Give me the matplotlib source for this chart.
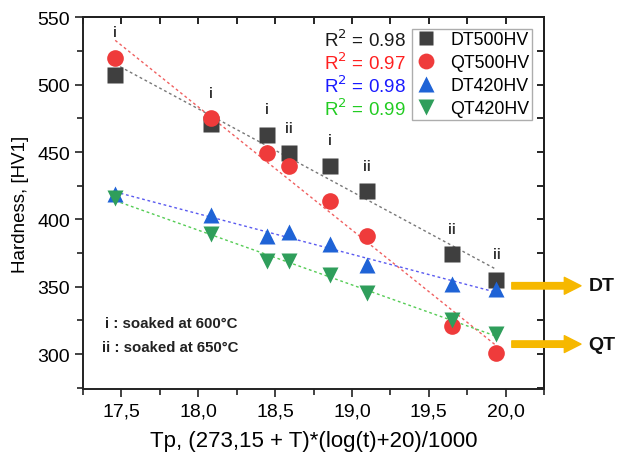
import matplotlib.pyplot as plt
import numpy as np

plt.rcParams['font.family'] = ['Liberation Sans', 'DejaVu Sans']

# tempering parameter Tp
tp = [17.46, 18.08, 18.45, 18.59, 18.86, 19.10, 19.65, 19.94]
# hardness values (HV1)
dt500 = [507, 471, 463, 449, 440, 421, 374, 355]
qt500 = [520, 475, 449, 440, 414, 388, 321, 301]
dt420 = [419, 403, 388, 391, 382, 366, 352, 348]
qt420 = [416, 389, 369, 369, 359, 345, 325, 315]
soak = ['i', 'i', 'i', 'ii', 'i', 'ii', 'ii', 'ii']

names = ['DT500HV', 'QT500HV', 'DT420HV', 'QT420HV']
r2 = ['0.98', '0.97', '0.98', '0.99']
series = [dt500, qt500, dt420, qt420]
markers = ['s', 'o', '^', 'v']
msizes = [11, 12, 12, 12]
mcolors = ['#3f3f3f', '#ef3b3b', '#1f63d6', '#2f9e5b']
fitcolors = ['#777777', '#f06060', '#5a5af0', '#55cc55']
r2colors = ['#1a1a1a', '#ff2020', '#1a1aff', '#22cc22']

fig = plt.figure(figsize=(6.19, 4.6), dpi=100)
ax = fig.add_axes([0.134, 0.152, 0.745, 0.808])

# dotted linear fits
for ys, c in zip(series, fitcolors):
    k, b = np.polyfit(tp, ys, 1)
    xx = np.array([tp[0], tp[-1]])
    ax.plot(xx, k * xx + b, ls=(0, (2, 2)), lw=1.0, color=c, zorder=1)

handles = []
for ys, m, ms, c, n in zip(series, markers, msizes, mcolors, names):
    h, = ax.plot(tp, ys, ls='none', marker=m, ms=ms, color=c,
                 markeredgecolor='none', label=n, zorder=3)
    handles.append(h)

# soaking labels
for x, a, b, s in zip(tp, dt500, qt500, soak):
    ax.text(x, max(a, b) + 19, s, ha='center', va='center', fontsize=10,
            fontweight='bold', color='#333333')

ax.set_xlim(17.25, 20.25)
ax.set_ylim(274, 550)
ax.set_xticks(np.arange(17.5, 20.01, 0.5))
ax.set_xticks(np.arange(17.25, 20.26, 0.25), minor=True)
ax.set_yticks(np.arange(300, 551, 50))
ax.set_yticks(np.arange(275, 551, 25), minor=True)
ax.set_xticklabels([f'{v:.1f}'.replace('.', ',') for v in np.arange(17.5, 20.01, 0.5)])
ax.tick_params(which='both', direction='out', labelsize=14, width=1.2, color='#222222')
ax.tick_params(which='major', length=6)
ax.tick_params(which='minor', length=4)
for sp in ax.spines.values():
    sp.set_linewidth(1.4)
    sp.set_color('#222222')

top = ax.secondary_xaxis('top')
top.set_xticks(np.arange(17.5, 20.01, 0.5))
top.set_xticks(np.arange(17.25, 20.26, 0.25), minor=True)
top.tick_params(which='both', direction='in', labeltop=False, length=5, width=1.2)
top.spines['top'].set_linewidth(1.4)
right = ax.secondary_yaxis('right')
right.set_yticks(np.arange(300, 551, 50))
right.set_yticks(np.arange(275, 551, 25), minor=True)
right.tick_params(which='both', direction='in', labelright=False, length=5, width=1.2)
right.spines['right'].set_linewidth(1.4)

ax.set_xlabel('Tp, (273,15 + T)*(log(t)+20)/1000', fontsize=16, labelpad=8)
ax.set_ylabel('Hardness, [HV1]', fontsize=13.5, labelpad=6)

leg = ax.legend(handles=handles, loc='upper right', bbox_to_anchor=(0.974, 0.970),
                fontsize=12.8, frameon=True, fancybox=False, handletextpad=0.7,
                labelspacing=0.34, borderpad=0.15, handlelength=1.3, markerscale=0.95,
                borderaxespad=0)
leg.get_frame().set_edgecolor('#999999')
leg.get_frame().set_linewidth(1.0)

for i, (v, c) in enumerate(zip(r2, r2colors)):
    ax.text(0.523, 0.942 - i * 0.062, f'R$^2$ = {v}', transform=ax.transAxes,
            fontsize=13.5, color=c, va='center', ha='left')

ax.text(0.048, 0.178, 'i : soaked at 600°C', transform=ax.transAxes,
        fontsize=10.8, fontweight='bold', color='#222222', va='center')
ax.text(0.042, 0.113, 'ii : soaked at 650°C', transform=ax.transAxes,
        fontsize=10.8, fontweight='bold', color='#222222', va='center')

# DT / QT arrows
arrow_y = [350.7, 307.4]
arrow_txt = ['DT', 'QT']
for y, t in zip(arrow_y, arrow_txt):
    ax.annotate('', xy=(20.49, y), xytext=(20.04, y), annotation_clip=False,
                arrowprops=dict(arrowstyle='simple,head_width=0.76,head_length=0.75,tail_width=0.29',
                                color='#f6b800', mutation_scale=16, shrinkA=0, shrinkB=0))
    ax.text(20.54, y, t, fontsize=14, fontweight='bold', va='center', ha='left',
            clip_on=False, color='#111111')

fig.savefig('out.png', dpi=100)
